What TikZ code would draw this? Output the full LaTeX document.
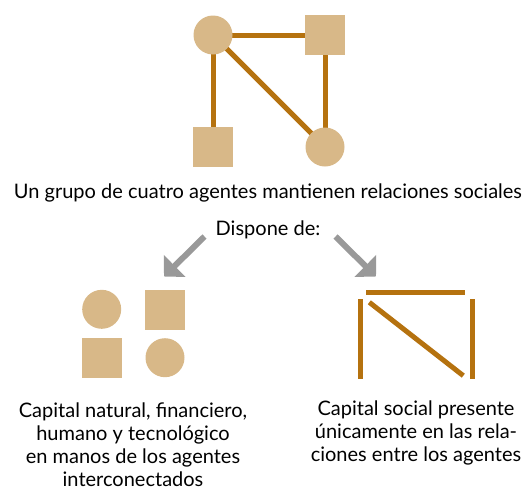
\documentclass[tikz,border=0pt]{standalone}
\usepackage{fontspec}
\setmainfont{Lato}
\usetikzlibrary{arrows.meta,backgrounds}
\definecolor{tan}{HTML}{D8B888}
\definecolor{link}{HTML}{B5720F}
\definecolor{arrowgray}{HTML}{999999}
\begin{document}
\begin{tikzpicture}[x=1pt,y=-1pt,
  agentc/.style={circle,fill=tan,minimum size=39pt,inner sep=0pt},
  agents/.style={rectangle,fill=tan,minimum size=40pt,inner sep=0pt},
  tie/.style={draw=link,line width=5pt},
  bigarrow/.style={draw=arrowgray,line width=6pt,-{Triangle[length=15pt,width=30pt]}},
  label/.style={font=\fontsize{20}{23}\selectfont,align=center,inner sep=0pt}]
\useasboundingbox (0,0) rectangle (527,493);
% top network
\node[agentc] (A) at (213,35) {};
\node[agents] (B) at (325,35) {};
\node[agents] (C) at (213,147) {};
\node[agentc] (D) at (325,147) {};
\begin{scope}[on background layer]
\draw[tie] (A.center) -- (B.center);
\draw[tie] (A.center) -- (C.center);
\draw[tie] (B.center) -- (D.center);
\draw[tie] (A.center) -- (D.center);
\end{scope}
\node[label] (title) at (268,193) {Un grupo de cuatro agentes mantienen relaciones sociales};
\node[label] (dispone) at (268,230) {Dispone de:};
\coordinate (la0) at (204.5,236.5);
\coordinate (la1) at (164,276.5);
\coordinate (ra0) at (335.5,236.5);
\coordinate (ra1) at (376,276.5);
\draw[bigarrow] (la0) -- (la1);
\draw[bigarrow] (ra0) -- (ra1);
% left group
\node[agentc] (E) at (101.7,309.3) {};
\node[agents] (F) at (165,310) {};
\node[agents] (G) at (101.7,357.5) {};
\node[agentc] (H) at (165,357.7) {};
% right group: ties only
\coordinate (t1) at (366,292.3);
\coordinate (t2) at (465,292.3);
\coordinate (l1) at (360.3,299);
\coordinate (l2) at (360.3,379);
\coordinate (r1) at (472.3,299);
\coordinate (r2) at (472.3,379);
\coordinate (d1) at (369.3,302.3);
\coordinate (d2) at (463.3,375.7);
\draw[tie] (t1) -- (t2);
\draw[tie] (l1) -- (l2);
\draw[tie] (r1) -- (r2);
\draw[tie] (d1) -- (d2);
\node[label] (lefttext) at (133,444.5) {Capital natural, financiero,\\humano y tecnológico\\en manos de los agentes\\interconectados};
\node[label] (righttext) at (416,433) {Capital social presente\\únicamente en las rela-\\ciones entre los agentes};
\end{tikzpicture}
\end{document}
